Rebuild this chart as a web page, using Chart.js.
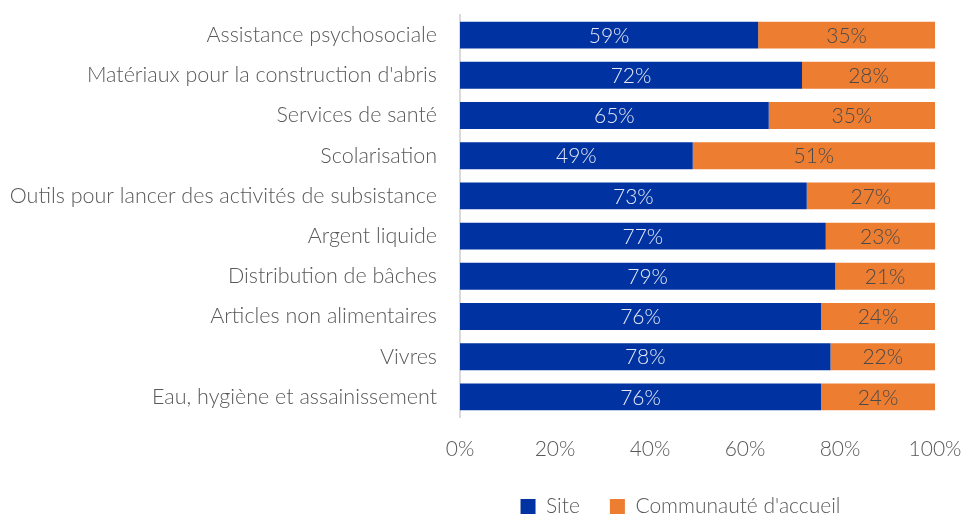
<!DOCTYPE html>
<html>
<head>
<meta charset="utf-8">
<script src="https://cdn.jsdelivr.net/npm/chart.js@4/dist/chart.umd.min.js"></script>
<style>
html,body{margin:0;padding:0;background:#fff;}
#wrap{width:964px;height:517px;position:relative;}
</style>
</head>
<body>
<div id="wrap"><canvas id="c" width="964" height="517"></canvas></div>
<script>
const categories = [
  "Assistance psychosociale",
  "Matériaux pour la construction d'abris",
  "Services de santé",
  "Scolarisation",
  "Outils pour lancer des activités de subsistance",
  "Argent liquide",
  "Distribution de bâches",
  "Articles non alimentaires",
  "Vivres",
  "Eau, hygiène et assainissement"
];
const siteValues = [59, 72, 65, 49, 73, 77, 79, 76, 78, 76];
const hostValues = [35, 28, 35, 51, 27, 23, 21, 24, 22, 24];
const seriesNames = ["Site", "Communauté d'accueil"];
const xTicks = ["0%", "20%", "40%", "60%", "80%", "100%"];

// 100% stacked: share of each row total
const totals = siteValues.map((v, i) => v + hostValues[i]);
const siteShare = siteValues.map((v, i) => v / totals[i] * 100);
const hostShare = hostValues.map((v, i) => v / totals[i] * 100);
const rawValues = [siteValues, hostValues];

const FONT = "Lato, 'Open Sans', sans-serif";

const labelPlugin = {
  id: 'barLabels',
  afterLayout(chart) {
    if (chart.legend) {
      chart.legend.top += 10; chart.legend.bottom += 10;
      chart.legend.left -= 17; chart.legend.right -= 17;
    }
  },
  afterDatasetsDraw(chart) {
    const ctx = chart.ctx;
    ctx.save();
    ctx.font = "300 21px " + FONT;
    ctx.textAlign = 'center';
    ctx.textBaseline = 'middle';
    chart.data.datasets.forEach((ds, di) => {
      const meta = chart.getDatasetMeta(di);
      meta.data.forEach((bar, i) => {
        const x = (bar.x + bar.base) / 2;
        ctx.fillStyle = di === 0 ? '#e4e8f4' : '#4a4a4a';
        ctx.fillText(rawValues[di][i] + '%', x, bar.y + 1);
      });
    });
    ctx.restore();
  }
};

new Chart(document.getElementById('c'), {
  type: 'bar',
  data: {
    labels: categories,
    datasets: [
      { label: seriesNames[0], data: siteShare, backgroundColor: '#0033a1', borderWidth: 0, categoryPercentage: 1, barPercentage: 0.67 },
      { label: seriesNames[1], data: hostShare, backgroundColor: '#ed7d31', borderWidth: 0, categoryPercentage: 1, barPercentage: 0.67 }
    ]
  },
  options: {
    indexAxis: 'y',
    responsive: false,
    animation: false,
    layout: { padding: { top: 15, right: 29, left: 0, bottom: 0 } },
    plugins: {
      tooltip: { enabled: false },
      legend: {
        position: 'bottom',
        fullSize: false,
        labels: {
          font: { family: FONT, size: 21, weight: 300 },
          color: '#595959',
          boxWidth: 15,
          boxHeight: 15,
          padding: 30
        }
      }
    },
    scales: {
      x: {
        stacked: true,
        min: 0, max: 100,
        ticks: {
          stepSize: 20,
          padding: 20,
          color: '#595959',
          font: { family: FONT, size: 21, weight: 300 },
          callback: (v, i) => xTicks[i]
        },
        grid: { display: false, drawTicks: false },
        border: { display: false },
        afterFit(scale) { scale.height = 39; scale.paddingLeft = 0; scale.paddingRight = 0; }
      },
      y: {
        stacked: true,
        ticks: {
          padding: 23,
          color: '#595959',
          font: { family: FONT, size: 21.5, weight: 300 }
        },
        grid: { display: false, drawTicks: false },
        border: { display: true, color: '#d9d9d9', width: 2 },
        afterFit(scale) { scale.width = 460; scale.paddingTop = 0; scale.paddingBottom = 0; }
      }
    }
  },
  plugins: [labelPlugin]
});
</script>
</body>
</html>
